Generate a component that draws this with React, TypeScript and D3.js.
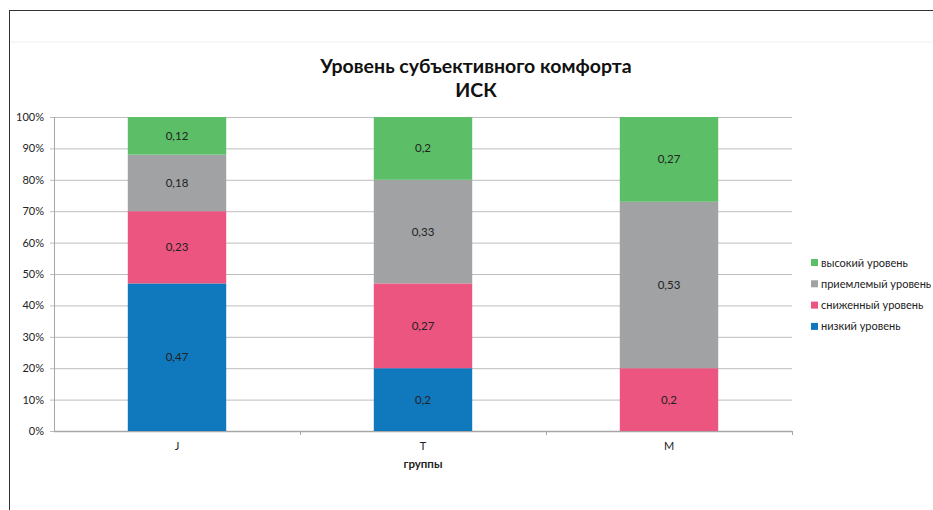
import React from "react";
import * as d3 from "d3";

const categories = ["J", "T", "M"];
const seriesNames = ["низкий уровень", "сниженный уровень", "приемлемый уровень", "высокий уровень"];
const seriesColors = ["#1078bd", "#ec5580", "#a0a2a3", "#5cbf68"];
const low = [0.47, 0.2, 0];
const reduced = [0.23, 0.27, 0.2];
const acceptable = [0.18, 0.33, 0.53];
const high = [0.12, 0.2, 0.27];
const yTicks = [0, 0.1, 0.2, 0.3, 0.4, 0.5, 0.6, 0.7, 0.8, 0.9, 1];

const W = 933, H = 510;
const left = 54, right = 792, top = 117, bottom = 431;
const FONT = "Lato, 'Open Sans', sans-serif";

export default function App() {
  const x = d3.scaleBand<string>().domain(categories).range([left, right]).paddingInner(0.6).paddingOuter(0.3);
  const xOuter = d3.scaleBand<string>().domain(categories).range([left, right]);
  const y = d3.scaleLinear().domain([0, 1]).range([bottom, top]);
  const raw = [low, reduced, acceptable, high];
  const rows = categories.map((c, i) => ({ cat: c, s0: low[i], s1: reduced[i], s2: acceptable[i], s3: high[i] }));
  const stack = d3.stack<any>().keys(["s0", "s1", "s2", "s3"]);
  const series = stack(rows);
  const fmt = (v: number) => String(v).replace(".", ",");
  const legendOrder = [3, 2, 1, 0];

  return (
    <svg width={W} height={H} style={{ position: "absolute", left: 0, top: 0 }} fontFamily={FONT}>
      <rect x={0} y={0} width={W} height={H} fill="#fff" />
      <line x1={9} y1={10.5} x2={W} y2={10.5} stroke="#333" strokeWidth={1} />
      <line x1={9.5} y1={10} x2={9.5} y2={H} stroke="#333" strokeWidth={1} />
      <line x1={10} y1={42} x2={W} y2={42} stroke="#f0f0f0" strokeWidth={1} />
      <text x={476} y={73} textAnchor="middle" fontSize={19.5} fontWeight="bold" fill="#111">Уровень субъективного комфорта</text>
      <text x={476} y={97} textAnchor="middle" fontSize={19.5} fontWeight="bold" fill="#111">ИСК</text>
      {yTicks.map((t) => (
        <g key={t}>
          <line x1={left - 4} x2={right} y1={y(t) + 0.5} y2={y(t) + 0.5} stroke="#bdbdbd" strokeWidth={1} />
          <text x={left - 10} y={y(t) + 4} textAnchor="end" fontSize={11} fill="#222">{Math.round(t * 100)}%</text>
        </g>
      ))}
      <line x1={left + 0.5} x2={left + 0.5} y1={top} y2={bottom} stroke="#a6a6a6" />
      <line x1={left} x2={right} y1={bottom + 0.5} y2={bottom + 0.5} stroke="#a6a6a6" strokeWidth={1.5} />
      {categories.map((c) => (
        <line key={c} x1={(xOuter(c) as number) + xOuter.bandwidth() + 0.5} x2={(xOuter(c) as number) + xOuter.bandwidth() + 0.5} y1={bottom} y2={bottom + 4} stroke="#a6a6a6" />
      ))}
      {series.map((s, si) => (
        <g key={si}>
          {s.map((d, i) => {
            const v = raw[si][i];
            if (v <= 0) return null;
            const bx = x(categories[i]) as number;
            return (
              <g key={i}>
                <rect x={bx} y={y(d[1])} width={x.bandwidth()} height={y(d[0]) - y(d[1])} fill={seriesColors[si]} />
                <text x={bx + x.bandwidth() / 2} y={(y(d[0]) + y(d[1])) / 2 + 4} textAnchor="middle" fontSize={11.5} fill="#222">{fmt(v)}</text>
              </g>
            );
          })}
        </g>
      ))}
      {categories.map((c) => (
        <text key={c} x={(x(c) as number) + x.bandwidth() / 2} y={450} textAnchor="middle" fontSize={11} fill="#222">{c}</text>
      ))}
      <text x={423} y={468} textAnchor="middle" fontSize={11.5} fontWeight="bold" fill="#222">группы</text>
      {legendOrder.map((si, k) => (
        <g key={si}>
          <rect x={811} y={259 + k * 21.3} width={7} height={7} fill={seriesColors[si]} />
          <text x={821} y={266.5 + k * 21.3} fontSize={11} fill="#222">{seriesNames[si]}</text>
        </g>
      ))}
    </svg>
  );
}
